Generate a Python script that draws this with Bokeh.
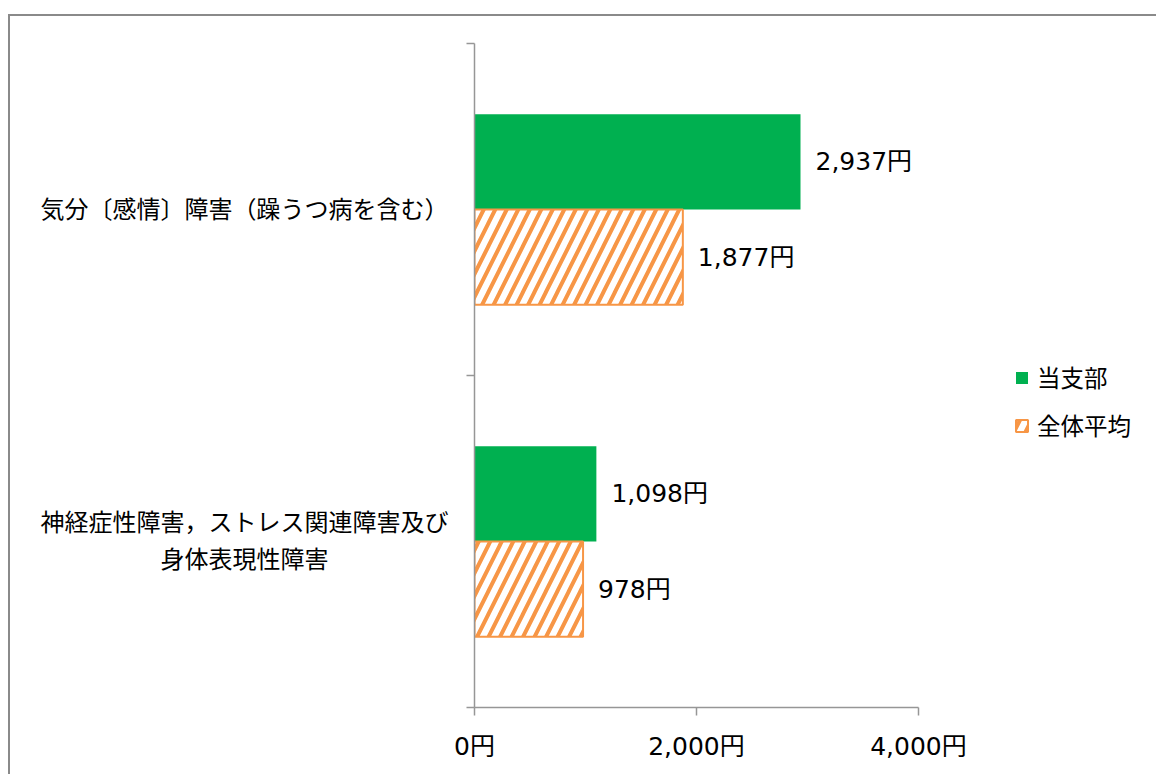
from bokeh.plotting import figure
from bokeh.models import (Range1d, FixedTicker, ColumnDataSource, LabelSet,
                          Legend, LegendItem)
from bokeh.core.properties import value
from bokeh.embed import file_html
from bokeh.resources import INLINE

# ---- data ----
categories = ["気分〔感情〕障害（躁うつ病を含む）",
              "神経症性障害，ストレス関連障害及び\n身体表現性障害　　　　　"]
series_names = ["当支部", "全体平均"]
branch_values = [2937, 1098]
overall_values = [1877, 978]
x_ticks = [0, 2000, 4000]

FONT = "DejaVu Sans, Noto Sans CJK JP"
AXIS_GRAY = "#969696"
GREEN = "#00B050"
ORANGE = "#F79646"

W, H = 1148, 760          # canvas size (page offset 10,16 via styles)
OX, OY = 10, 16
FRAME_L, FRAME_T, FRAME_B = 474, 43, 707   # page coords
AXIS_END_PX = 918                          # page x of the 4000 tick
X_MAX = x_ticks[-1]
FRAME_R = OX + W                           # frame extends to right edge (legend lives inside)
x_end = X_MAX * (FRAME_R - FRAME_L) / (AXIS_END_PX - FRAME_L)

n = len(categories)
centers = [n - i - 0.5 for i in range(n)]   # first category at top
off = 0.1435
bar_h = 0.287

src_a = ColumnDataSource(dict(y=[c + off for c in centers], v=branch_values,
                              lbl=[f"{v:,}円" for v in branch_values]))
src_b = ColumnDataSource(dict(y=[c - off for c in centers], v=overall_values,
                              lbl=[f"{v:,}円" for v in overall_values]))

p = figure(width=W, height=H, x_range=Range1d(0, x_end), y_range=Range1d(0, n),
           output_backend="svg", toolbar_location=None,
           min_border_left=FRAME_L - OX, min_border_right=0,
           min_border_top=FRAME_T - OY, min_border_bottom=H - (FRAME_B - OY))
p.styles = {"margin-left": "8px", "margin-top": "14px",
            "border-top": "2px solid #8a8a8a", "border-left": "2px solid #8a8a8a"}
p.outline_line_color = None
p.xgrid.visible = False
p.ygrid.visible = False
p.background_fill_color = "white"
p.border_fill_color = "white"

r1 = p.hbar(y="y", left=0, right="v", height=bar_h, source=src_a,
            fill_color=GREEN, line_color=None)
r2 = p.hbar(y="y", left=0, right="v", height=bar_h, source=src_b,
            fill_color="white", line_color=ORANGE, line_width=2,
            hatch_pattern="/", hatch_color=ORANGE, hatch_scale=23, hatch_weight=4)

for src in (src_a, src_b):
    p.add_layout(LabelSet(x="v", y="y", text="lbl", source=src, x_offset=15,
                          text_baseline="middle", text_align="left",
                          text_font=value(FONT), text_font_size="25px", text_color="black"))

# x axis
xa = p.xaxis[0]
xa.bounds = (0, X_MAX)
xa.ticker = FixedTicker(ticks=x_ticks, minor_ticks=[])
xa.major_label_overrides = {t: f"{t:,}円" for t in x_ticks}
xa.axis_line_color = AXIS_GRAY
xa.axis_line_width = 1.5
xa.major_tick_line_color = AXIS_GRAY
xa.major_tick_line_width = 1.5
xa.major_tick_out = 8
xa.major_tick_in = 0
xa.minor_tick_out = 0
xa.minor_tick_in = 0
xa.major_label_standoff = 16
xa.major_label_text_font = FONT
xa.major_label_text_font_size = "25px"
xa.major_label_text_color = "black"

# y axis
ya = p.yaxis[0]
ya.ticker = FixedTicker(ticks=centers, minor_ticks=list(range(n + 1)))
ya.major_label_overrides = {c: cat for c, cat in zip(centers, categories)}
ya.axis_line_color = AXIS_GRAY
ya.axis_line_width = 1.5
ya.major_tick_out = 0
ya.major_tick_in = 0
ya.major_tick_line_color = None
ya.minor_tick_out = 8
ya.minor_tick_in = 0
ya.minor_tick_line_color = AXIS_GRAY
ya.minor_tick_line_width = 1.5
ya.major_label_standoff = 18
ya.major_label_text_font = FONT
ya.major_label_text_font_size = "24px"
ya.major_label_text_line_height = 1.35
ya.major_label_text_color = "black"

legend = Legend(items=[LegendItem(label=series_names[0], renderers=[r1]),
                       LegendItem(label=series_names[1], renderers=[r2])],
                location=(540, 265), orientation="vertical",
                glyph_width=15, glyph_height=15, label_standoff=8, spacing=14,
                label_height=24, padding=0, margin=0,
                border_line_color=None, background_fill_alpha=0,
                label_text_font=FONT, label_text_font_size="23.5px",
                label_text_color="black")
p.add_layout(legend)

open("out.html", "w").write(file_html(p, INLINE))
